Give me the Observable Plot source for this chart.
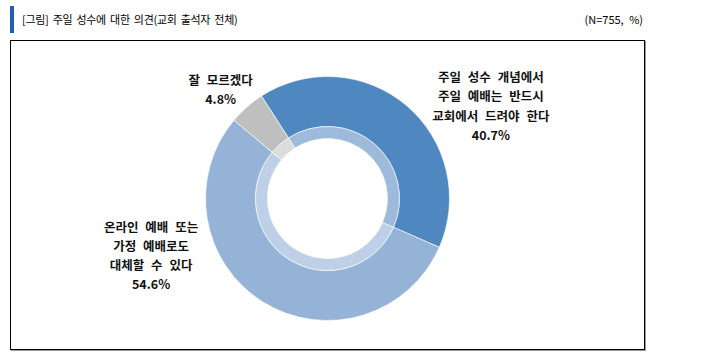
<!DOCTYPE html>
<html>
<head>
<meta charset="utf-8">
<script src="https://cdn.jsdelivr.net/npm/d3@7"></script>
<script src="https://cdn.jsdelivr.net/npm/@observablehq/plot@0.6"></script>
<style>
  html, body { margin: 0; padding: 0; background: #fff; }
  #wrap { position: relative; width: 728px; height: 364px; font-family: "Noto Sans CJK KR", "Noto Sans", sans-serif; color: #000; }
  #bar { position: absolute; left: 10px; top: 6px; width: 4px; height: 27px; background: #1F5FAD; }
  #title { position: absolute; left: 22px; top: 11px; font-size: 11px; line-height: 16px; letter-spacing: -0.3px; word-spacing: 2px; }
  #note { position: absolute; right: 85px; top: 11px; font-size: 11px; line-height: 16px; word-spacing: 3px; }
  #box { position: absolute; left: 10px; top: 40px; width: 633px; height: 308px; border: 1px solid #000; box-shadow: 1px 1px 0 #999; }
  #box svg { display: block; }
</style>
</head>
<body>
<div id="wrap">
  <div id="bar"></div>
  <div id="title">[그림] 주일 성수에 대한 의견(교회 출석자 전체)</div>
  <div id="note">(N=755, %)</div>
  <div id="box"></div>
</div>
<script>
// ---- data ----
const categories = ["주일 성수 개념에서 주일 예배는 반드시 교회에서 드려야 한다", "온라인 예배 또는 가정 예배로도 대체할 수 있다", "잘 모르겠다"];
const values = [40.7, 54.6, 4.8];
const labelLines = [
  ["주일 성수 개념에서", "주일 예배는 반드시", "교회에서 드려야 한다"],
  ["온라인 예배 또는", "가정 예배로도", "대체할 수 있다"],
  ["잘 모르겠다"]
];

// ---- styles / layout ----
const colors = ["#4F88C0", "#95B3D7", "#BFBFBF"];
const innerColors = ["#9DBADB", "#BED0E7", "#DCDCDC"];
const startAngle = -32.8 * Math.PI / 180;
// label anchors in unit coordinates (outer radius = 1), first-line y
const labelPos = [
  {x: 1.335, y: 0.99},
  {x: -1.45, y: -0.235},
  {x: -0.88, y: 0.97}
];
const lineGap = 0.157; // in unit radii

const W = 633, H = 308;
const cx = 316.5, cy = 157.5, R = 122;
const rInnerRing = 72 / R, rBand = 60 / R;

const slices = d3.pie().sort(null).value(d => d.value)
  .startAngle(startAngle).endAngle(startAngle + 2 * Math.PI)(
    categories.map((c, i) => ({name: c, value: values[i], i}))
  );

function donutMark(index, scales) {
  const x0 = scales.x(0), y0 = scales.y(0);
  const r = scales.x(1) - x0;
  const g = d3.create("svg:g").attr("transform", `translate(${x0},${y0})`);
  const outer = d3.arc().innerRadius(r * rInnerRing).outerRadius(r);
  const inner = d3.arc().innerRadius(r * rBand).outerRadius(r * rInnerRing);
  g.selectAll("path.o").data(slices).join("path").attr("class", "o")
    .attr("d", outer).attr("fill", d => colors[d.data.i]).attr("stroke", "#fff").attr("stroke-width", 0.6);
  g.selectAll("path.b").data(slices).join("path").attr("class", "b")
    .attr("d", inner).attr("fill", d => innerColors[d.data.i]).attr("stroke", "#fff").attr("stroke-width", 0.6);
  return g.node();
}

// text rows
const textRows = [];
labelLines.forEach((lines, i) => {
  lines.concat([values[i].toFixed(1) + "%"]).forEach((t, k) => {
    textRows.push({x: labelPos[i].x, y: labelPos[i].y - k * lineGap, text: t});
  });
});

const chart = Plot.plot({
  width: W,
  height: H,
  margin: 0,
  x: {type: "linear", domain: [-1, 1], range: [cx - R, cx + R], axis: null},
  y: {type: "linear", domain: [-1, 1], range: [cy + R, cy - R], axis: null},
  style: {fontFamily: "'Noto Sans CJK KR', sans-serif", background: "transparent", wordSpacing: "4px"},
  marks: [
    donutMark,
    Plot.text(textRows, {
      x: "x", y: "y", text: "text",
      fontSize: 12.5, fontWeight: "bold", fill: "#111", textAnchor: "middle"
    })
  ]
});
document.getElementById("box").appendChild(chart);
</script>
</body>
</html>
